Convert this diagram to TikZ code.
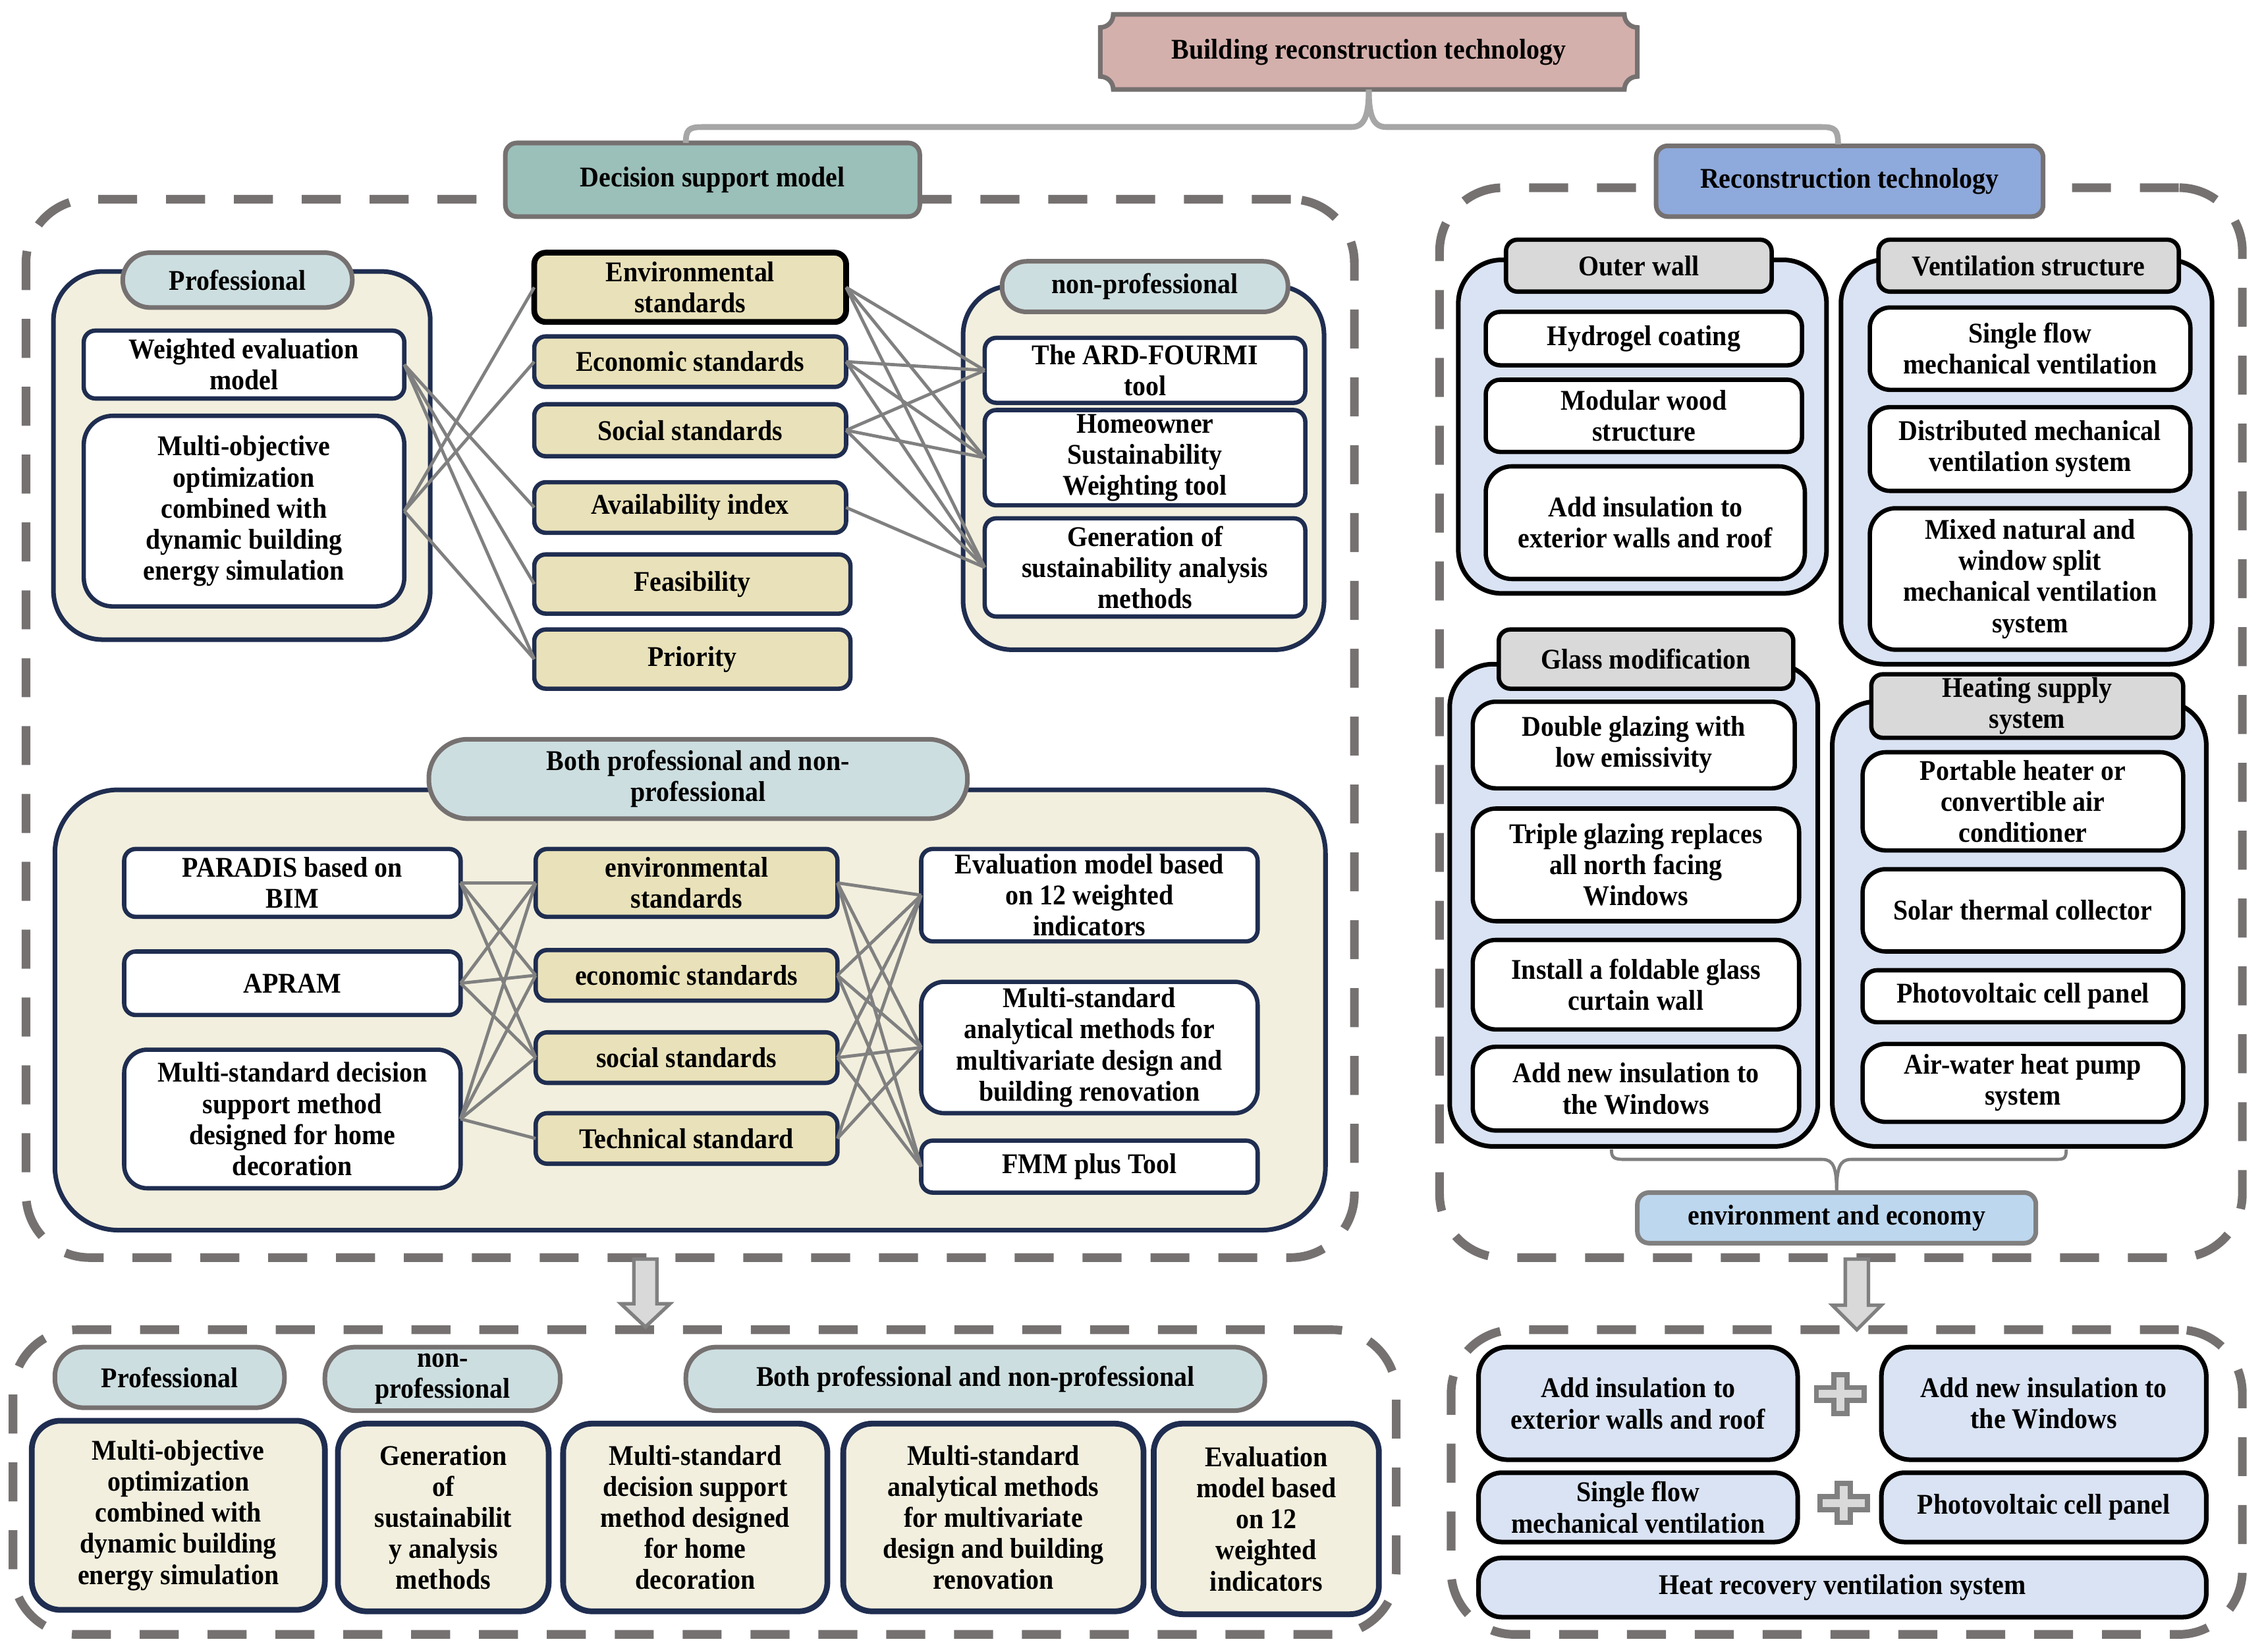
\documentclass[tikz,border=0pt]{standalone}
\usepackage{fontspec}
\setmainfont{Liberation Serif}[FakeStretch=0.92]
\usetikzlibrary{calc}
\definecolor{navy}{HTML}{1F2D50}
\definecolor{dgray}{HTML}{767171}
\definecolor{lgray}{HTML}{A6A6A6}
\definecolor{mgray}{HTML}{808080}
\definecolor{cream}{HTML}{F2EFDE}
\definecolor{tanbox}{HTML}{E9E1B9}
\definecolor{pillc}{HTML}{CDDEE0}
\definecolor{lblue}{HTML}{DAE3F3}
\definecolor{labg}{HTML}{D9D9D9}
\definecolor{eeb}{HTML}{BDD7EE}
\definecolor{tealc}{HTML}{9BBFB9}
\definecolor{rtb}{HTML}{8EA9DB}
\definecolor{pinkc}{HTML}{D4B0AC}
\newcommand\fs{\fontsize{9.9}{10.75}\selectfont\bfseries}
\newcommand\bx[7]{\node[#6, minimum width={(#4-#2)*0.5pt}, minimum height={(#5-#3)*0.5pt}] (#1) at ({(#2+#4)/2},{(#3+#5)/2}) {#7};}
\tikzset{
  base/.style={inner sep=0pt, outer sep=0pt, align=center, font=\fs},
  dsh/.style={base, draw=dgray, line width=3pt, dash pattern=on 13.5pt off 10pt, rounded corners=22pt},
  hdr/.style={base, draw=dgray, line width=1.6pt, rounded corners=4pt},
  grpc/.style={base, fill=cream, draw=navy, line width=1.6pt, rounded corners=17pt},
  grpb/.style={base, fill=lblue, draw=black, line width=1.6pt, rounded corners=15pt},
  pillst/.style={base, fill=pillc, draw=dgray, line width=1.6pt},
  wbox/.style={base, fill=white, draw=navy, line width=1.5pt, rounded corners=4pt},
  tbox/.style={base, fill=tanbox, draw=navy, line width=1.5pt, rounded corners=4pt},
  kbox/.style={base, fill=white, draw=black, line width=1.5pt, rounded corners=5pt},
  labst/.style={base, fill=labg, draw=black, line width=1.5pt, rounded corners=4pt},
  cbox/.style={base, fill=cream, draw=navy, line width=2pt, rounded corners=10pt},
  bbox/.style={base, fill=lblue, draw=black, line width=1.6pt, rounded corners=8pt},
  link/.style={draw=mgray, line width=1.1pt},
  brc/.style={draw=lgray, line width=2pt},
  brc2/.style={draw=mgray, line width=1.1pt},
  barrow/.style={fill=labg, draw=mgray, line width=1.2pt, line join=miter},
}
\begin{document}
\begin{tikzpicture}[x=0.5pt, y=-0.5pt]
\useasboundingbox (0,0) rectangle (1568,1144);
% dashed containers
\bx{dl}{18}{138}{938}{871}{dsh}{}
\bx{dr}{997}{130}{1553}{871}{dsh}{}
\bx{dbl}{9}{921}{967}{1132}{dsh}{}
\bx{dbr}{1005}{921}{1553}{1132}{dsh}{}
% top header
\draw[fill=pinkc, draw=dgray, line width=1.6pt] (771,10) -- (1125,10) .. controls (1125,15) and (1129,19) .. (1134,19) -- (1134,53) .. controls (1129,53) and (1125,57) .. (1125,62) -- (771,62) .. controls (771,57) and (767,53) .. (762,53) -- (762,19) .. controls (767,19) and (771,15) .. (771,10) -- cycle;
\bx{top}{762}{10}{1134}{62}{base}{Building reconstruction technology}
\bx{dsm}{350}{99}{637}{150}{hdr, fill=tealc}{Decision support model}
\bx{rt}{1147}{101}{1415}{150}{hdr, fill=rtb}{Reconstruction technology}
\coordinate (bl) at (475,99);
\coordinate (br) at (1273,100);
\draw[brc] (bl) .. controls (475,90) and (477,88) .. (486,88) -- (936,88) .. controls (945,88) and (948,80) .. (top.south);
\draw[brc] (top.south) .. controls (948,80) and (951,88) .. (960,88) -- (1262,88) .. controls (1271,88) and (1273,90) .. (br);
% professional group
\bx{pg}{37}{188}{298}{443}{grpc}{}
\bx{pp}{85}{175}{244}{213}{pillst, rounded corners=9.5pt}{Professional}
\bx{wem}{58}{229}{280}{276}{wbox}{Weighted evaluation\\model}
\bx{mo}{58}{288}{280}{420}{wbox, rounded corners=10pt}{Multi-objective\\optimization\\combined with\\dynamic building\\energy simulation}
% standards
\bx{env}{370}{175}{586}{223}{tbox, draw=black, line width=2pt}{Environmental\\standards}
\bx{econ}{370}{233}{586}{268}{tbox}{Economic standards}
\bx{soc}{370}{280}{586}{316}{tbox}{Social standards}
\bx{avail}{370}{334}{586}{369}{tbox}{Availability index}
\bx{feas}{370}{384}{589}{425}{tbox}{Feasibility}
\bx{prio}{370}{436}{589}{477}{tbox}{Priority}
% non-professional group
\bx{ng}{667}{198}{917}{450}{grpc}{}
\bx{np}{694}{181}{892}{216}{pillst, rounded corners=8.5pt}{non-professional}
\bx{ard}{682}{234}{904}{279}{wbox}{The ARD-FOURMI\\tool}
\bx{home}{682}{284}{904}{350}{wbox}{Homeowner\\Sustainability\\Weighting tool}
\bx{gen}{682}{359}{904}{427}{wbox}{Generation of\\sustainability analysis\\methods}
% both group
\bx{bg}{38}{547}{918}{852}{grpc, rounded corners=22pt}{}
\bx{bp}{297}{512}{670}{567}{pillst, rounded corners=13.5pt}{Both professional and non-\\professional}
\bx{par}{86}{588}{319}{635}{wbox}{PARADIS based on\\BIM}
\bx{apr}{86}{659}{319}{703}{wbox}{APRAM}
\bx{msd}{86}{727}{319}{823}{wbox, rounded corners=8pt}{Multi-standard decision\\support method\\designed for home\\decoration}
\bx{envb}{371}{588}{580}{635}{tbox}{environmental\\standards}
\bx{econb}{371}{658}{580}{693}{tbox}{economic standards}
\bx{socb}{371}{715}{580}{750}{tbox}{social standards}
\bx{tech}{371}{771}{580}{806}{tbox}{Technical standard}
\bx{evm}{638}{588}{871}{652}{wbox}{Evaluation model based\\on 12 weighted\\indicators}
\bx{msa}{638}{680}{871}{771}{wbox, rounded corners=8pt}{Multi-standard\\analytical methods for\\multivariate design and\\building renovation}
\bx{fmm}{638}{790}{871}{826}{wbox}{FMM plus Tool}
% links upper
\foreach \a/\b in {wem/avail, wem/feas, wem/prio, mo/env, mo/econ, mo/prio}
  \draw[link] (\a.east) -- (\b.west);
\foreach \a in {env, econ, soc}
  \foreach \b in {ard, home, gen}
    \draw[link] (\a.east) -- (\b.west);
\draw[link] (avail.east) -- (gen.west);
% links lower
\foreach \a in {par, apr, msd}
  \foreach \b in {envb, econb, socb}
    \draw[link] (\a.east) -- (\b.west);
\draw[link] (msd.east) -- (tech.west);
\foreach \a in {envb, econb, socb}
  \foreach \b in {evm, msa, fmm}
    \draw[link] (\a.east) -- (\b.west);
\draw[link] (tech.east) -- (evm.west);
\draw[link] (tech.east) -- (msa.west);
% right: outer wall
\bx{owg}{1010}{180}{1265}{411}{grpb}{}
\bx{owl}{1043}{166}{1227}{202}{labst}{Outer wall}
\bx{hyd}{1029}{216}{1248}{253}{kbox}{Hydrogel coating}
\bx{mod}{1029}{263}{1248}{313}{kbox}{Modular wood\\structure}
\bx{ains}{1029}{323}{1250}{401}{kbox, rounded corners=9pt}{Add insulation to\\exterior walls and roof}
% ventilation
\bx{vg}{1275}{180}{1532}{460}{grpb}{}
\bx{vl}{1301}{166}{1509}{202}{labst}{Ventilation structure}
\bx{sfm}{1295}{213}{1517}{270}{kbox, rounded corners=7pt}{Single flow\\mechanical ventilation}
\bx{dmv}{1295}{282}{1517}{340}{kbox, rounded corners=7pt}{Distributed mechanical\\ventilation system}
\bx{mix}{1295}{352}{1517}{450}{kbox, rounded corners=9pt}{Mixed natural and\\window split\\mechanical ventilation\\system}
% glass
\bx{gg}{1004}{460}{1259}{794}{grpb}{}
\bx{gl}{1038}{436}{1242}{477}{labst}{Glass modification}
\bx{dgl}{1020}{486}{1243}{546}{kbox, rounded corners=8pt}{Double glazing with\\low emissivity}
\bx{tgl}{1020}{560}{1246}{638}{kbox, rounded corners=8pt}{Triple glazing replaces\\all north facing\\Windows}
\bx{fgc}{1020}{651}{1246}{713}{kbox, rounded corners=8pt}{Install a foldable glass\\curtain wall}
\bx{ani}{1020}{725}{1246}{783}{kbox, rounded corners=8pt}{Add new insulation to\\the Windows}
% heating
\bx{hg}{1269}{486}{1528}{794}{grpb}{}
\bx{hl}{1296}{467}{1512}{511}{labst}{Heating supply\\system}
\bx{phc}{1290}{521}{1512}{589}{kbox, rounded corners=8pt}{Portable heater or\\convertible air\\conditioner}
\bx{stc}{1290}{602}{1512}{659}{kbox, rounded corners=8pt}{Solar thermal collector}
\bx{pvp}{1290}{672}{1512}{708}{kbox}{Photovoltaic cell panel}
\bx{awh}{1290}{723}{1512}{777}{kbox, rounded corners=8pt}{Air-water heat pump\\system}
% environment and economy
\bx{ee}{1134}{826}{1410}{861}{hdr, fill=eeb, draw=mgray}{environment and economy}
\coordinate (el) at (1116,796);
\coordinate (er) at (1431,796);
\draw[brc2] (el) .. controls (1116,802) and (1118,803) .. (1125,803) -- (1262,803) .. controls (1270,803) and (1272,809) .. (ee.north);
\draw[brc2] (ee.north) .. controls (1272,809) and (1274,803) .. (1282,803) -- (1424,803) .. controls (1430,803) and (1431,802) .. (er);
% block arrows
\draw[barrow] (439,872) -- (439,903) -- (430,903) -- (447,919) -- (464,903) -- (455,903) -- (455,872) -- cycle;
\draw[barrow] (1278,872) -- (1278,904) -- (1269,904) -- (1286,921) -- (1303,904) -- (1294,904) -- (1294,872) -- cycle;
% bottom left
\bx{qp}{38}{933}{197}{975}{pillst, rounded corners=10pt}{Professional}
\bx{qn}{225}{933}{388}{977}{pillst, rounded corners=10.5pt}{non-\\professional}
\bx{qb}{475}{933}{876}{977}{pillst, rounded corners=10.5pt}{Both professional and non-professional}
\bx{c1}{22}{984}{225}{1115}{cbox}{Multi-objective\\optimization\\combined with\\dynamic building\\energy simulation}
\bx{c2}{234}{986}{380}{1116}{cbox}{Generation\\of\\sustainabilit\\y analysis\\methods}
\bx{c3}{390}{986}{573}{1116}{cbox}{Multi-standard\\decision support\\method designed\\for home\\decoration}
\bx{c4}{584}{986}{792}{1116}{cbox}{Multi-standard\\analytical methods\\for multivariate\\design and building\\renovation}
\bx{c5}{799}{986}{955}{1118}{cbox}{Evaluation\\model based\\on 12\\weighted\\indicators}
% bottom right
\bx{b1}{1024}{933}{1245}{1011}{bbox, rounded corners=10pt}{Add insulation to\\exterior walls and roof}
\bx{b2}{1303}{933}{1528}{1011}{bbox, rounded corners=10pt}{Add new insulation to\\the Windows}
\bx{b3}{1024}{1020}{1245}{1068}{bbox}{Single flow\\mechanical ventilation}
\bx{b4}{1303}{1020}{1528}{1068}{bbox}{Photovoltaic cell panel}
\bx{b5}{1024}{1079}{1528}{1120}{bbox}{Heat recovery ventilation system}
% plus signs
\foreach \cx/\cy in {1274.5/965.5, 1277/1041}
  \draw[barrow, line width=1.8pt] ($(\cx,\cy)+(-16.5,-4.5)$) -- ++(12,0) -- ++(0,-9) -- ++(9,0) -- ++(0,9) -- ++(12,0) -- ++(0,9) -- ++(-12,0) -- ++(0,9) -- ++(-9,0) -- ++(0,-9) -- ++(-12,0) -- cycle;
\end{tikzpicture}
\end{document}
